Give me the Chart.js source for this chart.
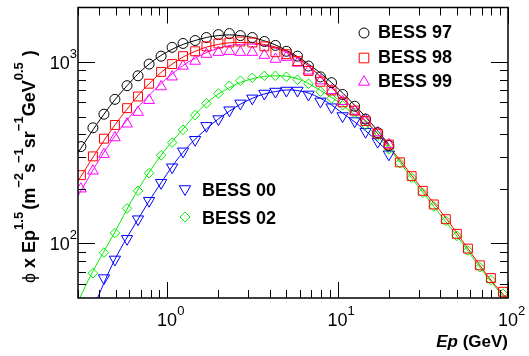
<!DOCTYPE html>
<html>
<head>
<meta charset="utf-8">
<script src="https://cdn.jsdelivr.net/npm/chart.js@4"></script>
<style>
  body { margin: 0; background: #fff; }
  canvas { display: block; }
</style>
</head>
<body>
<canvas id="myChart" width="529" height="356"></canvas>
<script>
// energy bins (GeV), shared by all data sets
const epBins = [0.312, 0.367, 0.426, 0.494, 0.582, 0.675, 0.784, 0.922, 1.07, 1.24,
  1.46, 1.70, 2.00, 2.32, 2.69, 3.16, 3.72, 4.32, 5.01, 5.82,
  6.75, 7.94, 9.22, 10.7, 12.6, 14.6, 17.2, 20.0, 23.2, 27.2,
  31.6, 36.7, 43.2, 50.1, 58.2, 68.4, 79.4, 93.4];

// flux x Ep^1.5, null = no point in that bin
const bess97 = [342, 434, 516, 623, 741, 840, 975, 1078, 1206, 1267,
  1315, 1366, 1418, 1436, 1400, 1366, 1299, 1236, 1147, 1078,
  951, 829, 770, 663, 571, 485, 408, 347];
const bess98 = [238, 302, 378, 450, 557, 646, 760, 883, 975, 1078,
  1147, 1221, 1267, 1283, 1299, 1283, 1221, 1133, 1105, 1012,
  894, 779, 697, 600, 540, 473, 403, 351, 280, 235,
  195, 164, 136, 113, 93.6, 75.7, 64.4, 54.1];
const bess99 = [200, 251, 310, 383, 456, 529, 615, 732, 829, 951,
  1012, 1105, 1133, 1147, 1133, 1133, 1091, 1038, 1064, 988,
  894, 789, 697, 607, 536, 479, 408, 351];
const bess00 = [null, null, 64.4, 81.6, 106, 136, 172, 216, 263, 322,
  373, 445, 485, 543, 592, 631, 671, 688, 697, 697,
  663, 607, 564, 504, 473, 413, 364, 310];
const bess02 = [null, 68.5, 89.0, 114, 156, 195, 244, 306, 360, 423,
  510, 592, 671, 741, 789, 819, 840, 840, 829, 799,
  760, 688, 631, 578, 523, 450, 393, 330, 277, 230,
  190, 160, 133, 110, 91.3, 73.9, 62.8, 52.8];

// fitted curves
const fitEp97 = [0.2955, 0.426, 0.582, 0.784, 1.07, 1.46, 2.0, 2.69, 3.67, 5.01, 6.75, 9.22, 12.6, 17.2, 20.0];
const fitFlux97 = [310, 516, 741, 975, 1176, 1315, 1400, 1400, 1315, 1161, 975, 770, 578, 418, 351];
const fitEp98 = [0.2955, 0.426, 0.582, 0.784, 1.07, 1.46, 2.0, 2.69, 3.67, 5.01, 6.75, 9.22, 12.6, 17.2, 23.2, 31.6, 43.2, 58.2, 79.4, 100];
const fitFlux98 = [216, 369, 550, 760, 975, 1147, 1252, 1283, 1252, 1147, 951, 723, 543, 403, 288, 198, 138, 93.6, 62.8, 48.9];
const fitEp99 = [0.2955, 0.426, 0.582, 0.784, 1.07, 1.46, 2.0, 2.69, 3.67, 5.01, 6.75, 9.22, 12.6, 17.2, 20.0];
const fitFlux99 = [179, 318, 479, 655, 861, 1051, 1191, 1252, 1236, 1133, 951, 723, 543, 403, 347];
const fitEp00 = [0.385, 0.494, 0.675, 0.922, 1.24, 1.70, 2.32, 3.16, 4.32, 5.82, 7.94, 10.7, 14.6, 20.0];
const fitFlux00 = [48.6, 81.6, 136, 216, 318, 428, 536, 631, 688, 697, 631, 523, 418, 318];
const fitEp02 = [0.3037, 0.362, 0.494, 0.675, 0.922, 1.24, 1.70, 2.32, 3.16, 4.32, 5.82, 7.94, 10.7, 14.6, 20.0, 27.2, 36.7, 50.1, 68.4, 93.4, 102.8];
const fitFlux02 = [48.9, 68.5, 115.7, 198, 306, 428, 592, 723, 809, 840, 809, 697, 578, 450, 334, 230, 160, 110, 73.9, 51.4, 47.7];

// axis ticks
const xMajorTicks = [1, 10, 100];
const xMinorTicks = [0.3, 0.4, 0.5, 0.6, 0.7, 0.8, 0.9, 2, 3, 4, 5, 6, 7, 8, 9, 20, 30, 40, 50, 60, 70, 80, 90];
const xTickExp = ['0', '1', '2'];
const yMajorTicks = [100, 1000];
const yMinorTicks = [60, 70, 80, 90, 200, 300, 400, 500, 600, 700, 800, 900];
const yTickExp = ['2', '3'];

const legendTop = ['BESS 97', 'BESS 98', 'BESS 99'];
const legendBottom = ['BESS 00', 'BESS 02'];

const BLACK = '#000000', RED = '#ff0000', MAGENTA = '#ff00ff', BLUE = '#0000ff', GREEN = '#00ee00';

const pts = (xs, ys) => xs.map((v, i) => ({x: v, y: ys[i]})).filter(p => p.y != null);

function markerSet(label, ys, color, style, r, rot) {
  return {
    label: label,
    data: pts(epBins, ys),
    showLine: false,
    pointStyle: style,
    pointRadius: r,
    pointRotation: rot || 0,
    pointBorderColor: color,
    pointBackgroundColor: 'rgba(0,0,0,0)',
    pointBorderWidth: 1,
    borderColor: color
  };
}

function fitSet(xs, ys, color) {
  return {
    data: pts(xs, ys),
    showLine: true,
    pointRadius: 0,
    borderColor: color,
    borderWidth: 1,
    tension: 0.4,
    fill: false
  };
}

// marker shapes for the legend, same geometry as chart.js
function legendMarker(ctx, style, x, y, r, color) {
  ctx.save();
  ctx.strokeStyle = color;
  ctx.lineWidth = 1;
  ctx.beginPath();
  if (style === 'circle') {
    ctx.arc(x, y, r, 0, Math.PI * 2);
  } else if (style === 'rect') {
    const s = Math.SQRT1_2 * r;
    ctx.rect(x - s, y - s, 2 * s, 2 * s);
  } else if (style === 'tri' || style === 'triDown') {
    const d = style === 'tri' ? 1 : -1;
    for (let k = 0; k < 3; k++) {
      const a = k * 2 * Math.PI / 3;
      const px = x + Math.sin(a) * r * d, py = y - Math.cos(a) * r * d;
      if (k === 0) ctx.moveTo(px, py); else ctx.lineTo(px, py);
    }
    ctx.closePath();
  } else if (style === 'diamond') {
    ctx.moveTo(x - r, y); ctx.lineTo(x, y - r); ctx.lineTo(x + r, y); ctx.lineTo(x, y + r);
    ctx.closePath();
  }
  ctx.stroke();
  ctx.restore();
}

// text with superscripts: parts = [{t, f, dy}]
function drawRich(ctx, parts, x, y) {
  let cx = x;
  parts.forEach(p => {
    ctx.font = p.f;
    ctx.fillText(p.t, cx, y + (p.dy || 0));
    cx += ctx.measureText(p.t).width + (p.gap || 0);
  });
  return cx - x;
}

const FONT = '"Liberation Sans", Arial, sans-serif';

const rootFrame = {
  id: 'rootFrame',
  afterDraw(chart) {
    const ctx = chart.ctx;
    const a = chart.chartArea;
    const xs = chart.scales.x, ys = chart.scales.y;
    ctx.save();
    ctx.strokeStyle = '#000';
    ctx.fillStyle = '#000';
    ctx.lineWidth = 1;

    // tick marks on all four sides
    ctx.beginPath();
    const xTick = (v, len) => {
      const px = Math.round(xs.getPixelForValue(v)) + 0.5;
      ctx.moveTo(px, a.bottom); ctx.lineTo(px, a.bottom - len);
      ctx.moveTo(px, a.top); ctx.lineTo(px, a.top + len);
    };
    const yTick = (v, len) => {
      const py = Math.round(ys.getPixelForValue(v)) + 0.5;
      ctx.moveTo(a.left, py); ctx.lineTo(a.left + len, py);
      ctx.moveTo(a.right, py); ctx.lineTo(a.right - len, py);
    };
    xMinorTicks.forEach(v => xTick(v, 8));
    xMajorTicks.forEach(v => xTick(v, 16));
    yMinorTicks.forEach(v => yTick(v, 8));
    yMajorTicks.forEach(v => yTick(v, 17));
    ctx.stroke();

    ctx.lineWidth = 1.5;
    ctx.strokeRect(a.left, a.top, a.right - a.left, a.bottom - a.top);

    // tick labels 10^n
    ctx.textBaseline = 'alphabetic';
    ctx.textAlign = 'left';
    xMajorTicks.forEach((v, i) => {
      const px = xs.getPixelForValue(v);
      ctx.font = '18px ' + FONT;
      const w = ctx.measureText('10').width;
      drawRich(ctx, [
        {t: '10', f: '18px ' + FONT},
        {t: xTickExp[i], f: '13px ' + FONT, dy: -11}
      ], px - w / 2, 326);
    });
    yMajorTicks.forEach((v, i) => {
      const py = ys.getPixelForValue(v);
      ctx.font = '18px ' + FONT;
      const w = ctx.measureText('10').width;
      ctx.font = '13px ' + FONT;
      const we = ctx.measureText(yTickExp[i]).width;
      drawRich(ctx, [
        {t: '10', f: '18px ' + FONT},
        {t: yTickExp[i], f: '13px ' + FONT, dy: -11}
      ], 77 - w - we, py + 6.5);
    });

    // x axis title
    const bold = 'bold 17px ' + FONT;
    ctx.font = bold;
    const wGeV = ctx.measureText(' (GeV)').width;
    ctx.font = 'italic ' + bold;
    const wEp = ctx.measureText('Ep').width;
    drawRich(ctx, [
      {t: 'Ep', f: 'italic ' + bold},
      {t: ' (GeV)', f: bold}
    ], a.right - wEp - wGeV, 347);

    // y axis title, rotated
    const sup = 'bold 13px ' + FONT;
    const ttl = 'bold 18px ' + FONT;
    ctx.save();
    ctx.translate(35, 283);
    ctx.rotate(-Math.PI / 2);
    drawRich(ctx, [
      {t: '\u03D5', f: '18px ' + FONT},
      {t: ' x Ep', f: ttl},
      {t: '1.5', f: sup, dy: -12, gap: 2},
      {t: '(m', f: ttl},
      {t: '\u22122', f: sup, dy: -12},
      {t: 's', f: ttl},
      {t: '\u22121', f: sup, dy: -12},
      {t: 'sr', f: ttl},
      {t: '\u22121', f: sup, dy: -12},
      {t: 'GeV', f: ttl},
      {t: '0.5', f: sup, dy: -12, gap: 1},
      {t: ' )', f: ttl}
    ], 0, 0);
    ctx.restore();

    // legends
    ctx.font = 'bold 18px ' + FONT;
    const topMarks = [['circle', BLACK, 5], ['rect', RED, 6.8], ['tri', MAGENTA, 6.4]];
    const topRows = [33, 58, 82];
    legendTop.forEach((t, i) => {
      legendMarker(ctx, topMarks[i][0], 364, topRows[i], topMarks[i][2], topMarks[i][1]);
      ctx.fillText(t, 378, topRows[i] + 5);
    });
    const botMarks = [['triDown', BLUE, 6.5], ['diamond', GREEN, 5]];
    const botRows = [189, 217];
    legendBottom.forEach((t, i) => {
      legendMarker(ctx, botMarks[i][0], 185, botRows[i], botMarks[i][2], botMarks[i][1]);
      ctx.fillText(t, 202, botRows[i] + 7);
    });
    ctx.restore();
  }
};

const config = {
  type: 'scatter',
  data: {
    datasets: [
      markerSet('BESS 98', bess98, RED, 'rect', 6.3),
      markerSet('BESS 97', bess97, BLACK, 'circle', 5),
      markerSet('BESS 99', bess99, MAGENTA, 'triangle', 6.2),
      markerSet('BESS 02', bess02, GREEN, 'rectRot', 4.8),
      markerSet('BESS 00', bess00, BLUE, 'triangle', 6.5, 180),
      fitSet(fitEp98, fitFlux98, RED),
      fitSet(fitEp97, fitFlux97, BLACK),
      fitSet(fitEp99, fitFlux99, MAGENTA),
      fitSet(fitEp02, fitFlux02, GREEN),
      fitSet(fitEp00, fitFlux00, BLUE)
    ]
  },
  options: {
    responsive: false,
    animation: false,
    devicePixelRatio: 1,
    events: [],
    layout: { padding: { left: 78, right: 21, top: 3, bottom: 58 } },
    plugins: {
      legend: { display: false },
      tooltip: { enabled: false },
      title: { display: false }
    },
    scales: {
      x: { type: 'logarithmic', min: 0.3, max: 100, display: false },
      y: { type: 'logarithmic', min: 50, max: 2000, display: false }
    }
  },
  plugins: [rootFrame]
};

const myChart = new Chart(document.getElementById('myChart'), config);
</script>
</body>
</html>
